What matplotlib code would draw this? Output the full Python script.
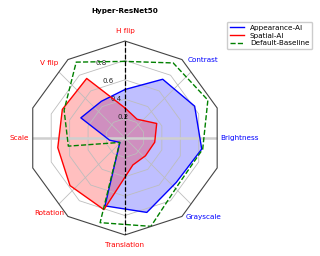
import matplotlib
matplotlib.use("Agg")
import matplotlib.pyplot as plt
import numpy as np
from matplotlib.patches import RegularPolygon
from matplotlib.path import Path
from matplotlib.projections import register_projection
from matplotlib.projections.polar import PolarAxes
from matplotlib.spines import Spine
from matplotlib.transforms import Affine2D

# Chart data
title = "Hyper-ResNet50"
axis_labels = ["H flip", "V flip", "Scale", "Rotation", "Translation", "Grayscale", "Brightness", "Contrast"]
label_colors = ["red", "red", "red", "red", "red", "blue", "blue", "blue"]
series_names = ["Appearance-AI", "Spatial-AI", "Default-Baseline"]
appearance = [0.50, 0.45, 0.50, 0.16, 0.07, 0.73, 0.80, 0.70, 0.80, 0.79, 0.72]
spatial = [0.31, 0.73, 0.71, 0.70, 0.75, 0.77, 0.29, 0.28, 0.31, 0.36, 0.23]
baseline = [0.79, 0.93, 0.69, 0.59, 0.07, 0.91, 0.95, 0.73, 0.81, 0.94, 0.92]
radial_ticks = [0.2, 0.4, 0.6, 0.8]

frame_sides = 10


def radar_factory(num_vars):
    class RadarTransform(PolarAxes.PolarTransform):
        def transform_path_non_affine(self, path):
            # gridlines get straight segments between the frame vertices
            if path._interpolation_steps > 1:
                path = path.interpolated(num_vars)
            return Path(self.transform(path.vertices), path.codes)

    class RadarAxes(PolarAxes):
        name = "radar"
        PolarTransform = RadarTransform

        def __init__(self, *args, **kwargs):
            super().__init__(*args, **kwargs)
            self.set_theta_zero_location("N")

        def _gen_axes_patch(self):
            return RegularPolygon((0.5, 0.5), num_vars, radius=0.5, edgecolor="k")

        def _gen_axes_spines(self):
            spine = Spine(axes=self, spine_type="circle", path=Path.unit_regular_polygon(num_vars))
            spine.set_transform(Affine2D().scale(0.5).translate(0.5, 0.5) + self.transAxes)
            return {"polar": spine}

    register_projection(RadarAxes)


radar_factory(frame_sides)

fig = plt.figure(figsize=(3.2, 2.56), dpi=100)
ax = fig.add_axes([0.0875, 0.082, 0.606, 0.758], projection="radar")

# data points and label spokes
theta = np.linspace(0, 2 * np.pi, len(appearance), endpoint=False)
theta_closed = np.append(theta, theta[0])
label_angles = np.linspace(0, 2 * np.pi, len(axis_labels), endpoint=False)

ax.set_ylim(0, 1)
ax.set_rgrids(radial_ticks, fontsize=5, color="#222222")
ax.set_thetagrids(np.degrees(label_angles), [""] * len(axis_labels))
ax.grid(color="#bdbdbd", linewidth=0.6)
ax.spines["polar"].set_color("#444444")
ax.spines["polar"].set_linewidth(0.8)

ax.plot([np.pi / 2, 3 * np.pi / 2], [1, 1], color="#cfcfcf", linewidth=1.8, zorder=1.6)

for values, color, style, name in [
    (appearance, "blue", "-", series_names[0]),
    (spatial, "red", "-", series_names[1]),
    (baseline, "green", "--", series_names[2]),
]:
    closed = np.append(values, values[0])
    ax.plot(theta_closed, closed, style, color=color, linewidth=1.0, label=name)
    if style == "-":
        ax.fill(theta_closed, closed, color=color, alpha=0.25, linewidth=0)

ax.plot([0, np.pi], [1, 1], "k--", linewidth=0.9, zorder=5)

# axis names around the frame
label_radius = [1.10, 1.10, 1.095, 1.10, 1.10, 1.15, 1.18, 1.14]
for angle, text, color, r in zip(label_angles, axis_labels, label_colors, label_radius):
    ax.text(angle, r, text, color=color, fontsize=5.2, ha="center", va="center")

ax.set_title(title, fontsize=5.2, fontweight="bold", y=1.147, pad=0)

fig.legend(loc="upper right", bbox_to_anchor=(0.976, 0.915), fontsize=5.2,
           borderaxespad=0, labelspacing=0.25, framealpha=1)

fig.savefig("out.png", dpi=100)
